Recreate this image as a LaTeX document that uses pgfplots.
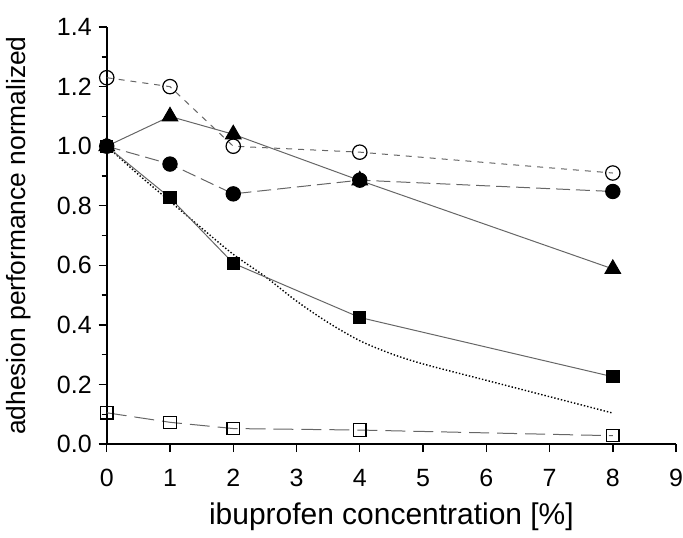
\documentclass[border=0pt]{standalone}
\usepackage{fontspec}
\setmainfont{Liberation Sans}
\usepackage{pgfplots}
\pgfplotsset{compat=1.18}
\begin{document}
\begin{tikzpicture}
\begin{axis}[
  scale only axis,
  width=284bp, height=208bp,
  xmin=0, xmax=9, ymin=0, ymax=1.4,
  axis lines*=left,
  axis line style={line width=0.8pt},
  xtick={0,1,...,9},
  ytick={0,0.2,...,1.4},
  minor y tick num=1,
  tick align=outside,
  major tick length=4bp, minor tick length=2.5bp,
  tick style={black, line width=0.7pt},
  /pgf/number format/assume math mode=true,
  yticklabel={\fontsize{12.5}{14}\selectfont\pgfmathprintnumber[fixed,fixed zerofill,precision=1,assume math mode=true]{\tick}},
  xticklabel={\fontsize{12.5}{14}\selectfont\pgfmathprintnumber[assume math mode=true]{\tick}},
  yticklabel style={xshift=0bp},
  xticklabel style={yshift=-5bp, inner xsep=0pt},
  xlabel={ibuprofen concentration [\%]},
  ylabel={adhesion performance normalized},
  ylabel style={font=\fontsize{13.2}{15}\selectfont, yshift=6bp},
  xlabel style={font=\fontsize{15}{17}\selectfont, yshift=-1bp},
  clip=false,
]
% dotted fit curve
\addplot[black, densely dotted, line width=0.7pt, smooth, no marks] coordinates {
 (0,1.0) (0.5,0.905) (1,0.815) (1.5,0.725) (2,0.637) (2.5,0.563) (3,0.48) (3.5,0.408) (4,0.347) (4.5,0.303) (5,0.269) (6,0.214) (7,0.159) (8,0.104)};
% open circles
\addplot[gray!80!black, dashed, line width=0.5pt, mark=o, mark size=3.6pt, mark options={solid, black, fill=white, line width=0.6pt}] coordinates {
 (0,1.23) (1,1.20) (2,1.00) (4,0.98) (8,0.91)};
% filled triangles
\addplot[gray!80!black, line width=0.5pt, mark=triangle*, mark size=4.5pt, mark options={solid, black, fill=black}] coordinates {
 (0,1.00) (1,1.10) (2,1.04) (4,0.885) (8,0.588)};
% filled circles
\addplot[gray!80!black, dash pattern=on 7pt off 3pt, line width=0.5pt, mark=*, mark size=3.6pt, mark options={solid, black, fill=black}] coordinates {
 (0,1.00) (1,0.94) (2,0.84) (4,0.886) (8,0.848)};
% filled squares
\addplot[gray!80!black, line width=0.5pt, mark=square*, mark size=3.1pt, mark options={solid, black, fill=black}] coordinates {
 (0,1.00) (1,0.827) (2,0.607) (4,0.425) (8,0.226)};
% open squares
\addplot[gray!80!black, dash pattern=on 10pt off 4pt, line width=0.5pt, mark=square, mark size=3.1pt, mark options={solid, black, fill=white, line width=0.6pt}] coordinates {
 (0,0.105) (1,0.073) (2,0.052) (4,0.047) (8,0.028)};
\end{axis}
\path ([yshift=13.5bp]current axis.north);
\end{tikzpicture}
\end{document}
